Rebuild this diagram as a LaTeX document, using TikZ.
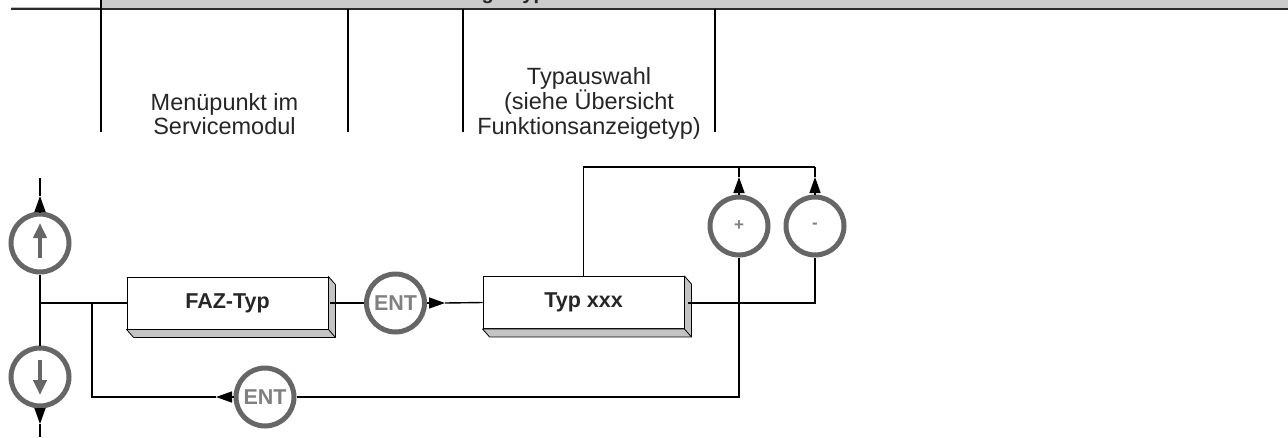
\documentclass[tikz,border=0pt]{standalone}
\usepackage{fontspec}
\setmainfont{Liberation Sans}
\usetikzlibrary{arrows.meta}
\definecolor{circgray}{HTML}{666666}
\definecolor{entgray}{HTML}{808080}
\definecolor{boxgray}{HTML}{C4C4C4}
\definecolor{bandgray}{HTML}{CBCBCB}
\definecolor{rulegray}{HTML}{2A2A2A}
\newcommand{\extrudebox}[1]{%
  \draw[fill=boxgray, line width=0.8pt, line join=round]
    (#1.south west) -- ([shift={(7,8)}]#1.south west) -- ([shift={(7,8)}]#1.south east)
    -- ([shift={(7,8)}]#1.north east) -- (#1.north east) -- (#1.south east) -- cycle;
  \draw[line width=0.8pt] (#1.south east) -- ([shift={(7,8)}]#1.south east);}
\begin{document}
\begin{tikzpicture}[x=1pt, y=-1pt,
  btn/.style={circle, draw=circgray, line width=5pt, minimum size=58pt, inner sep=0pt,
    text=entgray, font=\bfseries\fontsize{21.5}{24}\selectfont},
  menubox/.style={draw, line width=0.9pt, fill=white, minimum width=201pt, minimum height=52pt,
    inner sep=0pt, font=\bfseries\fontsize{21.5}{24}\selectfont, text=black!85},
  conn/.style={line width=1.4pt, black},
  arr/.style={conn, -{Triangle[length=16pt, width=11pt]}},
  inarr/.style={draw=circgray, line width=4pt, -{Triangle[length=15pt, width=13pt]}},
  coltext/.style={align=center, font=\fontsize{23.5}{24.5}\selectfont, text=black!85, inner sep=0pt},
  seprule/.style={line width=1.5pt, black}]
\useasboundingbox (0,0) rectangle (1288,437);

% header band
\fill[bandgray] (101,0) rectangle (1288,8);
\begin{scope}
  \clip (101,0) rectangle (1288,8);
  \node[anchor=base east, inner sep=0pt, font=\bfseries\fontsize{20}{24}\selectfont, text=black!85]
    (title) at (546,-1) {Funktionsanzeige-Typ};
\end{scope}
\draw[gray!50, line width=1pt] (11,7.3) -- (101,7.3);
\draw[rulegray, line width=2.2pt] (11,9) -- (1288,9);
\draw[seprule] (101,0) -- (101,132);
\draw[seprule] (348,9) -- (348,132);
\draw[seprule] (463,9) -- (463,132);
\draw[seprule] (715,9) -- (715,132);
\node[coltext] (menu) at (224.5,114) {Menüpunkt im\\Servicemodul};
\node[coltext] (typsel) at (589,103) {Typauswahl\\(siehe Übersicht\\Funktionsanzeigetyp)};

% nodes
\node[btn] (up) at (40,243) {};
\node[btn] (down) at (40,377) {};
\node[menubox] (faz) at (227.5,303) {FAZ-Typ};
\extrudebox{faz}
\node[btn] (ent1) at (395.5,303) {ENT};
\node[menubox] (typ) at (583.5,302.5) {Typ xxx};
\extrudebox{typ}
\node[btn, font=\bfseries\fontsize{17}{20}\selectfont] (plus) at (739,226) {+};
\node[btn, font=\bfseries\fontsize{17}{20}\selectfont] (minus) at (815,226) {-};
\node[btn] (ent2) at (265,397) {ENT};

% inner arrows
\draw[inarr] ([yshift=-15pt]up.center) -- ([yshift=20pt]up.center);
\draw[inarr] ([yshift=17pt]down.center) -- ([yshift=-18pt]down.center);

% coordinates
\coordinate (top) at (40,178);
\coordinate (upTip) at (40,196);
\coordinate (bot) at (40,437);
\coordinate (downTip) at (40,424);
\coordinate (j1) at (40,303);
\coordinate (j2) at (92,303);
\coordinate (j3) at (92,397);
\coordinate (j4) at (739,397);
\coordinate (e1tip) at (445,303);
\coordinate (e2tip) at (216,397);
\coordinate (topL) at (583.5,167);
\coordinate (topP) at (739,167);
\coordinate (topR) at (815,167);
\coordinate (pTip) at (739,177);
\coordinate (mTip) at (815,177);
\coordinate (r1) at (815,303);
\coordinate (fazR) at (330,303);
\coordinate (typR) at (688,303);

% connectors
\draw[arr] (up.north) -- (upTip);
\draw[conn] (upTip) -- (top);
\draw[conn] (up.south) -- (down.north);
\draw[arr] (down.south) -- (downTip);
\draw[conn] (downTip) -- (bot);
\draw[conn] (j1) -- (faz.west);
\draw[conn] (fazR) -- (ent1.west);
\draw[arr] (ent1.east) -- (e1tip);
\draw[conn] (e1tip) -- (typ.west);
\draw[conn] (typ.north) -- (topL) -- (topR);
\draw[arr] (plus.north) -- (pTip);
\draw[conn] (pTip) -- (topP);
\draw[arr] (minus.north) -- (mTip);
\draw[conn] (mTip) -- (topR);
\draw[conn] (typR) -- (r1) -- (minus.south);
\draw[conn] (plus.south) -- (j4) -- (ent2.east);
\draw[arr] (ent2.west) -- (e2tip);
\draw[conn] (e2tip) -- (j3) -- (j2);
\end{tikzpicture}
\end{document}
